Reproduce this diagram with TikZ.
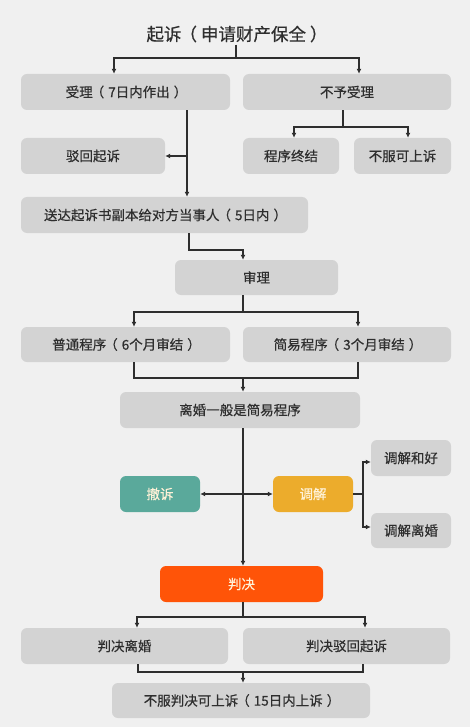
\documentclass[tikz,border=0pt]{standalone}
\usepackage{fontspec}
\setmainfont{Noto Sans CJK SC}
\newfontfamily\boxfont{Noto Sans CJK SC}[FakeBold=0.5]
\usepackage{tikz}
\usetikzlibrary{arrows.meta, calc, positioning}
\definecolor{PageGray}{HTML}{F0F0F0}
\definecolor{BoxGray}{HTML}{D3D3D3}
\definecolor{InkGray}{HTML}{2E2E2E}
\definecolor{SeaTeal}{HTML}{5AA99B}
\definecolor{Amber}{HTML}{ECAC2C}
\definecolor{Vermilion}{HTML}{FF5408}
\definecolor{Cream}{HTML}{FFF2D8}
\newcommand{\lp}{\kern-2pt（\kern4pt}
\newcommand{\rp}{\kern4pt）\kern-2pt}
\tikzset{%
  block/.style={%
    rectangle,%
    rounded corners=6pt,%
    fill=BoxGray,%
    text=InkGray,%
    minimum height=36pt,%
    inner sep=0pt,%
    font={\boxfont\fontsize{13.5}{16}\selectfont},%
    align=center%
  },
  color_block/.style={%
    block,%
    fill=#1,%
    text=Cream,%
    minimum width=80pt%
  },
  title_text/.style={%
    text=InkGray,%
    inner sep=2pt,%
    font={\boxfont\fontsize{17.5}{20}\selectfont}%
  },
  signal/.style={%
    color=InkGray,%
    line width=1.1pt,%
    line join=miter%
  },
  arrow/.style={-{Latex[length=5pt, width=5pt]}},
  twoway/.style={{Latex[length=5pt, width=5pt]}-{Latex[length=5pt, width=5pt]}},
}
\begin{document}
\begin{tikzpicture}[x=1pt, y=-1pt]
    \fill [PageGray] (0,0) rectangle (470,727);
    \useasboundingbox (0,0) rectangle (470,727);

    \node [title_text] (Suit) at (236,34) {起诉\lp 申请财产保全\rp};
    \node [block, minimum width=209pt] (Accept) at (125.5,92) {受理\lp 7日内作出\rp};
    \node [block, minimum width=208pt] (Reject) at (347,92) {不予受理};
    \node [block, minimum width=144pt] (Dismiss) at (93,156) {驳回起诉};
    \node [block, minimum width=96pt] (Terminate) at (291,156) {程序终结};
    \node [block, minimum width=97pt] (Appeal) at (402.5,156) {不服可上诉};
    \node [block, minimum width=287pt] (Serve) at (164.5,215) {送达起诉书副本给对方当事人\lp 5日内\rp};
    \node [block, minimum width=163pt, minimum height=35pt] (Trial) at (256.5,277.5) {审理};
    \node [block, minimum width=209pt, minimum height=35pt] (Ordinary) at (125.5,344.5) {普通程序\lp 6个月审结\rp};
    \node [block, minimum width=208pt, minimum height=35pt] (Summary) at (347,344.5) {简易程序\lp 3个月审结\rp};
    \node [block, minimum width=240pt] (Divorce) at (240,410) {离婚一般是简易程序};
    \node [color_block=SeaTeal] (Withdraw) at (160,494) {撤诉};
    \node [color_block=Amber] (Mediate) at (313,494) {调解};
    \node [block, minimum width=80pt] (Reconcile) at (411,458) {调解和好};
    \node [block, minimum width=80pt, minimum height=35pt] (Separate) at (411,530.5) {调解离婚};
    \node [color_block=Vermilion, minimum width=163pt] (Verdict) at (241.5,584) {判决};
    \node [block, minimum width=207pt] (GrantDivorce) at (124.5,646) {判决离婚};
    \node [block, minimum width=207pt] (DenySuit) at (346.5,646) {判决驳回起诉};
    \node [block, minimum width=258pt, minimum height=35pt] (HigherAppeal) at (241,700.5) {不服判决可上诉\lp 15日内上诉\rp};

    \coordinate (Spine) at (243,0);
    \coordinate (TopL) at (114,58);
    \coordinate (TopR) at (359,58);
    \coordinate (AcceptOut) at (187,0);
    \coordinate (RejectOut) at (343,127);
    \coordinate (RejL) at (294,127);
    \coordinate (RejR) at (408,127);
    \coordinate (ServeTurn) at (189,250);
    \coordinate (ProcL) at (134,312);
    \coordinate (ProcR) at (358,312);
    \coordinate (MergeL) at (134,378);
    \coordinate (MergeR) at (358,378);
    \coordinate (MedFork) at (363,494);
    \coordinate (VerdL) at (137,617);
    \coordinate (VerdR) at (365,617);
    \coordinate (EndL) at (138,672);
    \coordinate (EndR) at (363,672);

    % filing
    \draw [signal]
      (Suit.south) -- (Suit.south |- TopL);
    \draw [signal, twoway]
      (TopL |- Accept.north) -- (TopL) -- (TopR) -- (TopR |- Reject.north);
    \draw [signal, arrow]
      (AcceptOut |- Accept.south) -- (AcceptOut |- Serve.north);
    \draw [signal, arrow]
      (AcceptOut |- Dismiss.east) -- (Dismiss.east);
    \draw [signal]
      (RejectOut |- Reject.south) -- (RejectOut);
    \draw [signal, twoway]
      (RejL |- Terminate.north) -- (RejL) -- (RejR) -- (RejR |- Appeal.north);

    % trial
    \draw [signal, arrow]
      (ServeTurn |- Serve.south) -- (ServeTurn) -- (Spine |- ServeTurn)
      -- (Spine |- Trial.north);
    \draw [signal]
      (Spine |- Trial.south) -- (Spine |- ProcL);
    \draw [signal, twoway]
      (ProcL |- Ordinary.north) -- (ProcL) -- (ProcR) -- (ProcR |- Summary.north);
    \draw [signal]
      (MergeL |- Ordinary.south) -- (MergeL) -- (MergeR) -- (MergeR |- Summary.south);
    \draw [signal, arrow]
      (Spine |- MergeL) -- (Spine |- Divorce.north);

    % mediation
    \draw [signal, arrow]
      (Spine |- Divorce.south) -- (Spine |- Verdict.north);
    \draw [signal, twoway]
      (Withdraw.east) -- (Mediate.west);
    \draw [signal]
      (Mediate.east) -- (MedFork);
    \draw [signal, twoway]
      ($(Reconcile.west)+(0,4)$) -| (MedFork) |- ($(Separate.west)+(0,-3.5)$);

    % verdict
    \draw [signal]
      (Spine |- Verdict.south) -- (Spine |- VerdL);
    \draw [signal, twoway]
      (VerdL |- GrantDivorce.north) -- (VerdL) -- (VerdR) -- (VerdR |- DenySuit.north);
    \draw [signal]
      (EndL |- GrantDivorce.south) -- (EndL) -- (EndR) -- (EndR |- DenySuit.south);
    \draw [signal, arrow]
      (Spine |- EndL) -- (Spine |- HigherAppeal.north);
\end{tikzpicture}
\end{document}
